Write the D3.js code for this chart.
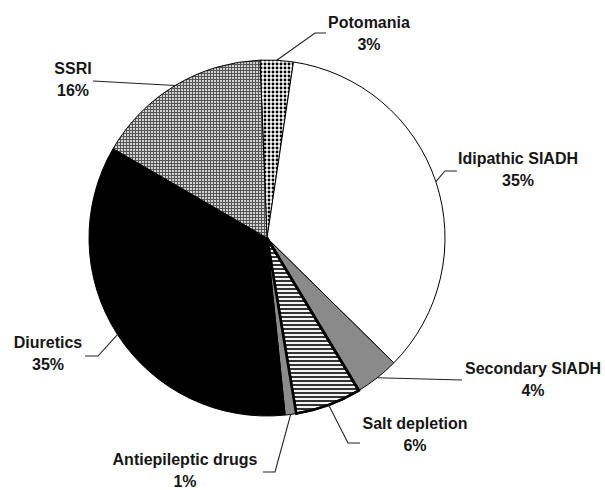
<!DOCTYPE html>
<html>
<head>
<meta charset="utf-8">
<script src="https://cdn.jsdelivr.net/npm/d3@7"></script>
<style>
  html, body { margin: 0; padding: 0; background: #fff; }
  svg { display: block; }
  text { font-family: "Liberation Sans", Arial, sans-serif; font-weight: bold; font-size: 16px; fill: #161616; }
</style>
</head>
<body>
<div id="chart"></div>
<script>
// ---- data ----
const categories = ["Potomania", "Idipathic SIADH", "Secondary SIADH", "Salt depletion", "Antiepileptic drugs", "Diuretics", "SSRI"];
const values = [3, 35, 4, 6, 1, 35, 16];
const valueLabels = ["3%", "35%", "4%", "6%", "1%", "35%", "16%"];

// ---- layout (label anchor = text centre x, first baseline y; leader elbow/end points) ----
const labelLayout = [
  { x: 369, y: 28,  leader: [[315, 33], [326, 33]] },
  { x: 518, y: 164, leader: [[445, 171], [457, 171]] },
  { x: 533, y: 374, leader: [[462, 380]] },
  { x: 415, y: 429, leader: [[348, 443], [360, 443]] },
  { x: 185, y: 465, leader: [[275, 472], [263, 472]] },
  { x: 48,  y: 348, leader: [[98, 356], [85, 356]] },
  { x: 73,  y: 74,  leader: [[93, 81]] }
];
const fills = ["url(#pDots)", "#ffffff", "#8a8a8a", "url(#pStripes)", "#8c8c8c", "#000000", "url(#pGrid)"];
const strokeW = [1, 1, 1, 2.6, 1, 1, 1];

const W = 605, H = 490;
const cx = 267, cy = 238, R = 178;
const startDeg = -2.25;

const svg = d3.select("#chart").append("svg").attr("width", W).attr("height", H);
const defs = svg.append("defs");

// dots pattern (Potomania)
const pd = defs.append("pattern").attr("id", "pDots").attr("patternUnits", "userSpaceOnUse")
  .attr("width", 4).attr("height", 4);
pd.append("rect").attr("width", 4).attr("height", 4).attr("fill", "#fff");
pd.append("circle").attr("cx", 2).attr("cy", 2).attr("r", 1.45).attr("fill", "#000");

// horizontal stripes (Salt depletion)
const ps = defs.append("pattern").attr("id", "pStripes").attr("patternUnits", "userSpaceOnUse")
  .attr("width", 4).attr("height", 4);
ps.append("rect").attr("width", 4).attr("height", 4).attr("fill", "#f4f4f4");
ps.append("rect").attr("y", 2).attr("width", 4).attr("height", 2).attr("fill", "#333");

// fine grid (SSRI)
const pg = defs.append("pattern").attr("id", "pGrid").attr("patternUnits", "userSpaceOnUse")
  .attr("width", 3).attr("height", 3);
pg.append("rect").attr("width", 3).attr("height", 3).attr("fill", "#d2d2d2");
pg.append("rect").attr("x", 0).attr("y", 0).attr("width", 3).attr("height", 1).attr("fill", "#555");
pg.append("rect").attr("x", 0).attr("y", 0).attr("width", 1).attr("height", 3).attr("fill", "#555");

const data = categories.map((c, i) => ({ name: c, value: values[i], label: valueLabels[i], i }));

const a0 = startDeg * Math.PI / 180;
const pie = d3.pie().value(d => d.value).sort(null).startAngle(a0).endAngle(a0 + 2 * Math.PI);
const arcs = pie(data);
const arc = d3.arc().innerRadius(0).outerRadius(R);

const g = svg.append("g").attr("transform", `translate(${cx},${cy})`);

g.selectAll("path.slice")
  .data(arcs)
  .join("path")
  .attr("class", "slice")
  .attr("d", arc)
  .attr("fill", d => fills[d.data.i])
  .attr("stroke", "#000")
  .attr("stroke-width", d => strokeW[d.data.i])
  .attr("stroke-linejoin", "round");

// redraw thick-bordered slice outline on top
g.selectAll("path.outline")
  .data(arcs.filter(d => strokeW[d.data.i] > 1))
  .join("path")
  .attr("class", "outline")
  .attr("d", arc)
  .attr("fill", "none")
  .attr("stroke", "#000")
  .attr("stroke-width", d => strokeW[d.data.i]);

// leader lines
const line = d3.line();
svg.selectAll("path.leader")
  .data(arcs)
  .join("path")
  .attr("class", "leader")
  .attr("d", d => {
    const mid = (d.startAngle + d.endAngle) / 2;
    const p0 = [cx + R * Math.sin(mid), cy - R * Math.cos(mid)];
    return line([p0, ...labelLayout[d.data.i].leader]);
  })
  .attr("fill", "none")
  .attr("stroke", "#222")
  .attr("stroke-width", 1.1);

// labels
const lab = svg.selectAll("text.lab")
  .data(arcs)
  .join("text")
  .attr("class", "lab")
  .attr("text-anchor", "middle")
  .attr("x", d => labelLayout[d.data.i].x)
  .attr("y", d => labelLayout[d.data.i].y);
lab.append("tspan").attr("x", d => labelLayout[d.data.i].x).text(d => d.data.name);
lab.append("tspan").attr("x", d => labelLayout[d.data.i].x).attr("dy", 22).text(d => d.data.label);
</script>
</body>
</html>
